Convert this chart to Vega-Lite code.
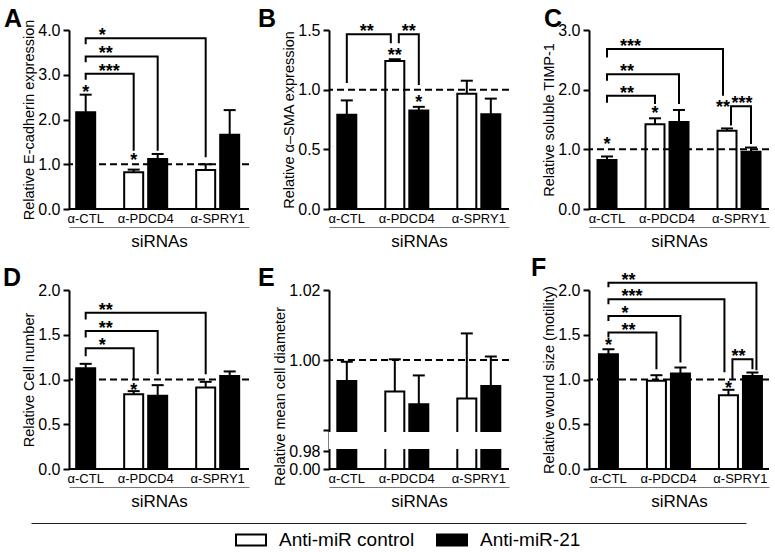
{
"$schema": "https://vega.github.io/schema/vega-lite/v6.json",
"background": "white",
"padding": {"left": 3, "top": 7, "right": 2, "bottom": 0},
"columns": 3,
"spacing": {"row": 81, "column": 80},
"bounds": "flush",
"datasets": {
"bars": [
{"p":"A","x":"CTL","t":"Anti-miR-21","v":2.16,"e":2.555},
{"p":"A","x":"PDCD4 c","t":"Anti-miR control","v":0.82,"e":0.88},
{"p":"A","x":"PDCD4 m","t":"Anti-miR-21","v":1.117,"e":1.23},
{"p":"A","x":"SPRY1 c","t":"Anti-miR control","v":0.87,"e":1.0},
{"p":"A","x":"SPRY1 m","t":"Anti-miR-21","v":1.66,"e":2.21},
{"p":"B","x":"CTL","t":"Anti-miR-21","v":0.79,"e":0.91},
{"p":"B","x":"PDCD4 c","t":"Anti-miR control","v":1.24,"e":1.255},
{"p":"B","x":"PDCD4 m","t":"Anti-miR-21","v":0.825,"e":0.856},
{"p":"B","x":"SPRY1 c","t":"Anti-miR control","v":0.965,"e":1.075},
{"p":"B","x":"SPRY1 m","t":"Anti-miR-21","v":0.795,"e":0.925},
{"p":"C","x":"CTL","t":"Anti-miR-21","v":0.82,"e":0.88},
{"p":"C","x":"PDCD4 c","t":"Anti-miR control","v":1.42,"e":1.52},
{"p":"C","x":"PDCD4 m","t":"Anti-miR-21","v":1.46,"e":1.66},
{"p":"C","x":"SPRY1 c","t":"Anti-miR control","v":1.31,"e":1.35},
{"p":"C","x":"SPRY1 m","t":"Anti-miR-21","v":0.96,"e":1.03},
{"p":"D","x":"CTL","t":"Anti-miR-21","v":1.126,"e":1.175},
{"p":"D","x":"PDCD4 c","t":"Anti-miR control","v":0.836,"e":0.87},
{"p":"D","x":"PDCD4 m","t":"Anti-miR-21","v":0.818,"e":0.937},
{"p":"D","x":"SPRY1 c","t":"Anti-miR control","v":0.91,"e":0.974},
{"p":"D","x":"SPRY1 m","t":"Anti-miR-21","v":1.04,"e":1.09},
{"p":"E","x":"CTL","t":"Anti-miR-21","v":0.994,"e":0.9995},
{"p":"E","x":"PDCD4 c","t":"Anti-miR control","v":0.991,"e":1.0002},
{"p":"E","x":"PDCD4 m","t":"Anti-miR-21","v":0.9874,"e":0.9956},
{"p":"E","x":"SPRY1 c","t":"Anti-miR control","v":0.989,"e":1.0076},
{"p":"E","x":"SPRY1 m","t":"Anti-miR-21","v":0.9926,"e":1.001},
{"p":"F","x":"CTL","t":"Anti-miR-21","v":1.283,"e":1.338},
{"p":"F","x":"PDCD4 c","t":"Anti-miR control","v":0.985,"e":1.048},
{"p":"F","x":"PDCD4 m","t":"Anti-miR-21","v":1.067,"e":1.134},
{"p":"F","x":"SPRY1 c","t":"Anti-miR control","v":0.825,"e":0.885},
{"p":"F","x":"SPRY1 m","t":"Anti-miR-21","v":1.04,"e":1.078}
],
"bs": [
{"p":"A","x":"CTL","o":"c","y":2.70,"s":"*"},
{"p":"A","x":"PDCD4 c","o":"c","y":1.19,"s":"*"},
{"p":"B","x":"PDCD4 c","o":"c","y":1.32,"s":"**"},
{"p":"B","x":"PDCD4 m","o":"c","y":0.93,"s":"*"},
{"p":"C","x":"CTL","o":"c","y":1.16,"s":"*"},
{"p":"C","x":"PDCD4 c","o":"c","y":1.67,"s":"*"},
{"p":"C","x":"SPRY1 c","o":"l","y":1.78,"s":"**"},
{"p":"D","x":"PDCD4 c","o":"c","y":0.93,"s":"*"},
{"p":"F","x":"CTL","o":"c","y":1.43,"s":"*"},
{"p":"F","x":"SPRY1 c","o":"c","y":0.948,"s":"*"}
],
"br": [
{"p":"A","b":"A1","xs":["CTL","CTL","SPRY1 c","SPRY1 c"],"ss":["c","c","c","c"],"ys":[3.68,3.815,3.815,1.155],"h":3.815,"t":"*","sx":"CTL"},
{"p":"A","b":"A2","xs":["CTL","CTL","PDCD4 m","PDCD4 m"],"ss":["c","c","c","c"],"ys":[3.28,3.41,3.41,1.30],"h":3.41,"t":"**","sx":"CTL"},
{"p":"A","b":"A3","xs":["CTL","CTL","PDCD4 c","PDCD4 c"],"ss":["c","c","c","c"],"ys":[2.89,3.02,3.02,1.30],"h":3.02,"t":"***","sx":"CTL"},
{"p":"B","b":"B1","xs":["CTL","CTL","PDCD4 c","PDCD4 c"],"ss":["c","c","l","l"],"ys":[1.056,1.464,1.464,1.39],"h":1.464,"t":"**","sx":"CTL"},
{"p":"B","b":"B2","xs":["PDCD4 c","PDCD4 c","PDCD4 m","PDCD4 m"],"ss":["r","r","c","c"],"ys":[1.39,1.464,1.464,1.04],"h":1.464,"t":"**","sx":"PDCD4"},
{"p":"C","b":"C1","xs":["CTL","CTL","SPRY1 c","SPRY1 c"],"ss":["c","c","l","l"],"ys":[2.54,2.68,2.68,1.90],"h":2.68,"t":"***","sx":"CTL"},
{"p":"C","b":"C2","xs":["CTL","CTL","PDCD4 m","PDCD4 m"],"ss":["c","c","c","c"],"ys":[2.15,2.26,2.26,1.76],"h":2.26,"t":"**","sx":"CTL"},
{"p":"C","b":"C3","xs":["CTL","CTL","PDCD4 c","PDCD4 c"],"ss":["c","c","c","c"],"ys":[1.78,1.90,1.90,1.76],"h":1.90,"t":"**","sx":"CTL"},
{"p":"C","b":"C4","xs":["SPRY1 c","SPRY1 c","SPRY1 m","SPRY1 m"],"ss":["r","r","c","c"],"ys":[1.40,1.72,1.72,1.09],"h":1.72,"t":"***","sx":"SPRY1"},
{"p":"D","b":"D1","xs":["CTL","CTL","SPRY1 c","SPRY1 c"],"ss":["c","c","c","c"],"ys":[1.67,1.747,1.747,1.06],"h":1.747,"t":"**","sx":"CTL"},
{"p":"D","b":"D2","xs":["CTL","CTL","PDCD4 m","PDCD4 m"],"ss":["c","c","c","c"],"ys":[1.47,1.543,1.543,1.06],"h":1.543,"t":"**","sx":"CTL"},
{"p":"D","b":"D3","xs":["CTL","CTL","PDCD4 c","PDCD4 c"],"ss":["c","c","c","c"],"ys":[1.26,1.35,1.35,1.00],"h":1.35,"t":"*","sx":"CTL"},
{"p":"F","b":"F1","xs":["CTL","CTL","SPRY1 m","SPRY1 m"],"ss":["c","c","r","r"],"ys":[2.03,2.08,2.08,1.104],"h":2.08,"t":"**","sx":"CTL"},
{"p":"F","b":"F2","xs":["CTL","CTL","SPRY1 c","SPRY1 c"],"ss":["c","c","l","l"],"ys":[1.84,1.896,1.896,1.08],"h":1.896,"t":"***","sx":"CTL"},
{"p":"F","b":"F3","xs":["CTL","CTL","PDCD4 m","PDCD4 m"],"ss":["c","c","c","c"],"ys":[1.654,1.71,1.71,1.19],"h":1.71,"t":"*","sx":"CTL"},
{"p":"F","b":"F4","xs":["CTL","CTL","PDCD4 c","PDCD4 c"],"ss":["c","c","c","c"],"ys":[1.468,1.524,1.524,1.115],"h":1.524,"t":"**","sx":"CTL"},
{"p":"F","b":"F5","xs":["SPRY1 c","SPRY1 c","SPRY1 m","SPRY1 m"],"ss":["r","r","c","c"],"ys":[1.0,1.227,1.227,1.115],"h":1.227,"t":"**","sx":"SPRY1"}
]
},
"concat": [
{
"width": 180, "height": 179,
"title": {"text": "A", "anchor": "start", "frame": "group", "dx": -65, "offset": -13},
"layer": [
{"data": {"values": [{}]}, "mark": {"type": "rule", "strokeWidth": 2, "color": "black"}, "encoding": {"y": {"datum": 0, "type": "quantitative"}}},
{"data": {"name": "bars"}, "transform": [{"filter": "datum.p == 'A'"}], "mark": {"type": "bar", "width": 19, "stroke": "black", "strokeWidth": 2},
 "encoding": {
  "x": {"field": "x", "type": "nominal", "title": "siRNAs", "scale": {"domain": ["CTL","g1","g2","g3","PDCD4 c","PDCD4","PDCD4 m","g4","g5","g6","SPRY1 c","SPRY1","SPRY1 m"], "paddingInner": 0, "paddingOuter": 1.412, "align": 0.445}, "axis": {"labelExpr": "indexof(['CTL','PDCD4','SPRY1'], datum.value) >= 0 ? 'α-' + datum.value : ''"}},
  "y": {"field": "v", "type": "quantitative", "scale": {"domain": [0, 4], "nice": false}, "axis": {"title": "Relative E-cadherin expression", "values": [0, 1, 2, 3, 4], "format": ".1f"}},
  "fill": {"field": "t", "type": "nominal", "scale": {"domain": ["Anti-miR control", "Anti-miR-21"], "range": ["white", "black"]}, "legend": {"orient": "none", "legendX": 166, "legendY": 494, "direction": "horizontal", "title": null}}
 }},
{"data": {"name": "bars"}, "transform": [{"filter": "datum.p == 'A'"}], "mark": {"type": "rule", "strokeWidth": 2, "color": "black"}, "encoding": {"x": {"field": "x", "type": "nominal", "title": "siRNAs"}, "y": {"field": "v", "type": "quantitative"}, "y2": {"field": "e"}}},
{"data": {"name": "bars"}, "transform": [{"filter": "datum.p == 'A'"}], "mark": {"type": "tick", "size": 12, "thickness": 2, "color": "black", "opacity": 1}, "encoding": {"x": {"field": "x", "type": "nominal", "title": "siRNAs"}, "y": {"field": "e", "type": "quantitative"}}},
{"data": {"values": [{}]}, "mark": {"type": "rule", "strokeWidth": 2, "strokeDash": [7, 4], "color": "black"}, "encoding": {"y": {"datum": 1, "type": "quantitative"}}},
{"data": {"name": "br"}, "transform": [{"filter": "datum.p == 'A'"}, {"flatten": ["xs", "ss", "ys"]}, {"window": [{"op": "row_number", "as": "o"}], "groupby": ["b"]}], "mark": {"type": "line", "strokeWidth": 2, "color": "black", "strokeJoin": "miter"}, "encoding": {"x": {"field": "xs", "type": "nominal", "title": "siRNAs"}, "xOffset": {"field": "ss", "type": "nominal", "scale": {"domain": ["l", "c", "r"]}}, "y": {"field": "ys", "type": "quantitative"}, "detail": {"field": "b"}, "order": {"field": "o"}}},
{"data": {"name": "br"}, "transform": [{"filter": "datum.p == 'A' && datum.sx == 'CTL'"}], "mark": {"type": "text", "align": "left", "dx": 13, "dy": 3, "fontSize": 18, "fontWeight": "bold", "baseline": "alphabetic"}, "encoding": {"x": {"field": "sx", "type": "nominal", "title": "siRNAs"}, "y": {"field": "h", "type": "quantitative"}, "text": {"field": "t"}}},
{"data": {"name": "bs"}, "transform": [{"filter": "datum.p == 'A'"}], "mark": {"type": "text", "align": "center", "dy": 10, "fontSize": 18, "fontWeight": "bold", "baseline": "alphabetic"}, "encoding": {"x": {"field": "x", "type": "nominal", "title": "siRNAs"}, "xOffset": {"field": "o", "type": "nominal", "scale": {"domain": ["l", "c", "r"]}}, "y": {"field": "y", "type": "quantitative"}, "text": {"field": "s"}}}
]
},
{
"width": 180, "height": 179,
"title": {"text": "B", "anchor": "start", "frame": "group", "dx": -71, "offset": -10},
"layer": [
{"data": {"values": [{}]}, "mark": {"type": "rule", "strokeWidth": 2, "color": "black"}, "encoding": {"y": {"datum": 0, "type": "quantitative"}}},
{"data": {"name": "bars"}, "transform": [{"filter": "datum.p == 'B'"}], "mark": {"type": "bar", "width": 19, "stroke": "black", "strokeWidth": 2},
 "encoding": {
  "x": {"field": "x", "type": "nominal", "title": "siRNAs", "scale": {"domain": ["CTL","g1","g2","g3","PDCD4 c","PDCD4","PDCD4 m","g4","g5","g6","SPRY1 c","SPRY1","SPRY1 m"], "paddingInner": 0, "paddingOuter": 1.412, "align": 0.492}, "axis": {"labelExpr": "indexof(['CTL','PDCD4','SPRY1'], datum.value) >= 0 ? 'α-' + datum.value : ''"}},
  "y": {"field": "v", "type": "quantitative", "scale": {"domain": [0, 1.5], "nice": false}, "axis": {"title": "Relative α–SMA expression", "values": [0, 0.5, 1, 1.5], "format": ".1f"}},
  "fill": {"field": "t", "type": "nominal", "scale": {"domain": ["Anti-miR control", "Anti-miR-21"], "range": ["white", "black"]}, "legend": {"orient": "none", "legendX": 166, "legendY": 494, "direction": "horizontal", "title": null}}
 }},
{"data": {"name": "bars"}, "transform": [{"filter": "datum.p == 'B'"}], "mark": {"type": "rule", "strokeWidth": 2, "color": "black"}, "encoding": {"x": {"field": "x", "type": "nominal", "title": "siRNAs"}, "y": {"field": "v", "type": "quantitative"}, "y2": {"field": "e"}}},
{"data": {"name": "bars"}, "transform": [{"filter": "datum.p == 'B'"}], "mark": {"type": "tick", "size": 12, "thickness": 2, "color": "black", "opacity": 1}, "encoding": {"x": {"field": "x", "type": "nominal", "title": "siRNAs"}, "y": {"field": "e", "type": "quantitative"}}},
{"data": {"values": [{}]}, "mark": {"type": "rule", "strokeWidth": 2, "strokeDash": [7, 4], "color": "black"}, "encoding": {"y": {"datum": 1, "type": "quantitative"}}},
{"data": {"name": "br"}, "transform": [{"filter": "datum.p == 'B'"}, {"flatten": ["xs", "ss", "ys"]}, {"window": [{"op": "row_number", "as": "o"}], "groupby": ["b"]}], "mark": {"type": "line", "strokeWidth": 2, "color": "black", "strokeJoin": "miter"}, "encoding": {"x": {"field": "xs", "type": "nominal", "title": "siRNAs"}, "xOffset": {"field": "ss", "type": "nominal", "scale": {"domain": ["l", "c", "r"]}}, "y": {"field": "ys", "type": "quantitative"}, "detail": {"field": "b"}, "order": {"field": "o"}}},
{"data": {"name": "br"}, "transform": [{"filter": "datum.p == 'B' && datum.sx == 'CTL'"}], "mark": {"type": "text", "align": "left", "dx": 13, "dy": 3, "fontSize": 18, "fontWeight": "bold", "baseline": "alphabetic"}, "encoding": {"x": {"field": "sx", "type": "nominal", "title": "siRNAs"}, "y": {"field": "h", "type": "quantitative"}, "text": {"field": "t"}}},
{"data": {"name": "br"}, "transform": [{"filter": "datum.p == 'B' && datum.sx != 'CTL'"}], "mark": {"type": "text", "align": "center", "dx": 2, "dy": 3, "fontSize": 18, "fontWeight": "bold", "baseline": "alphabetic"}, "encoding": {"x": {"field": "sx", "type": "nominal", "title": "siRNAs"}, "y": {"field": "h", "type": "quantitative"}, "text": {"field": "t"}}},
{"data": {"name": "bs"}, "transform": [{"filter": "datum.p == 'B'"}], "mark": {"type": "text", "align": "center", "dy": 10, "fontSize": 18, "fontWeight": "bold", "baseline": "alphabetic"}, "encoding": {"x": {"field": "x", "type": "nominal", "title": "siRNAs"}, "xOffset": {"field": "o", "type": "nominal", "scale": {"domain": ["l", "c", "r"]}}, "y": {"field": "y", "type": "quantitative"}, "text": {"field": "s"}}}
]
},
{
"width": 180, "height": 179,
"title": {"text": "C", "anchor": "start", "frame": "group", "dx": -45, "offset": -10},
"layer": [
{"data": {"values": [{}]}, "mark": {"type": "rule", "strokeWidth": 2, "color": "black"}, "encoding": {"y": {"datum": 0, "type": "quantitative"}}},
{"data": {"name": "bars"}, "transform": [{"filter": "datum.p == 'C'"}], "mark": {"type": "bar", "width": 19, "stroke": "black", "strokeWidth": 2},
 "encoding": {
  "x": {"field": "x", "type": "nominal", "title": "siRNAs", "scale": {"domain": ["CTL","g1","g2","g3","PDCD4 c","PDCD4","PDCD4 m","g4","g5","g6","SPRY1 c","SPRY1","SPRY1 m"], "paddingInner": 0, "paddingOuter": 1.412, "align": 0.5}, "axis": {"labelExpr": "indexof(['CTL','PDCD4','SPRY1'], datum.value) >= 0 ? 'α-' + datum.value : ''"}},
  "y": {"field": "v", "type": "quantitative", "scale": {"domain": [0, 3], "nice": false}, "axis": {"title": "Relative soluble TIMP-1", "values": [0, 1, 2, 3], "format": ".1f"}},
  "fill": {"field": "t", "type": "nominal", "scale": {"domain": ["Anti-miR control", "Anti-miR-21"], "range": ["white", "black"]}, "legend": {"orient": "none", "legendX": 166, "legendY": 494, "direction": "horizontal", "title": null}}
 }},
{"data": {"name": "bars"}, "transform": [{"filter": "datum.p == 'C'"}], "mark": {"type": "rule", "strokeWidth": 2, "color": "black"}, "encoding": {"x": {"field": "x", "type": "nominal", "title": "siRNAs"}, "y": {"field": "v", "type": "quantitative"}, "y2": {"field": "e"}}},
{"data": {"name": "bars"}, "transform": [{"filter": "datum.p == 'C'"}], "mark": {"type": "tick", "size": 12, "thickness": 2, "color": "black", "opacity": 1}, "encoding": {"x": {"field": "x", "type": "nominal", "title": "siRNAs"}, "y": {"field": "e", "type": "quantitative"}}},
{"data": {"values": [{}]}, "mark": {"type": "rule", "strokeWidth": 2, "strokeDash": [7, 4], "color": "black"}, "encoding": {"y": {"datum": 1, "type": "quantitative"}}},
{"data": {"name": "br"}, "transform": [{"filter": "datum.p == 'C'"}, {"flatten": ["xs", "ss", "ys"]}, {"window": [{"op": "row_number", "as": "o"}], "groupby": ["b"]}], "mark": {"type": "line", "strokeWidth": 2, "color": "black", "strokeJoin": "miter"}, "encoding": {"x": {"field": "xs", "type": "nominal", "title": "siRNAs"}, "xOffset": {"field": "ss", "type": "nominal", "scale": {"domain": ["l", "c", "r"]}}, "y": {"field": "ys", "type": "quantitative"}, "detail": {"field": "b"}, "order": {"field": "o"}}},
{"data": {"name": "br"}, "transform": [{"filter": "datum.p == 'C' && datum.sx == 'CTL'"}], "mark": {"type": "text", "align": "left", "dx": 13, "dy": 3, "fontSize": 18, "fontWeight": "bold", "baseline": "alphabetic"}, "encoding": {"x": {"field": "sx", "type": "nominal", "title": "siRNAs"}, "y": {"field": "h", "type": "quantitative"}, "text": {"field": "t"}}},
{"data": {"name": "br"}, "transform": [{"filter": "datum.p == 'C' && datum.sx != 'CTL'"}], "mark": {"type": "text", "align": "center", "dx": 3, "dy": 3, "fontSize": 18, "fontWeight": "bold", "baseline": "alphabetic"}, "encoding": {"x": {"field": "sx", "type": "nominal", "title": "siRNAs"}, "y": {"field": "h", "type": "quantitative"}, "text": {"field": "t"}}},
{"data": {"name": "bs"}, "transform": [{"filter": "datum.p == 'C'"}], "mark": {"type": "text", "align": "center", "dy": 10, "fontSize": 18, "fontWeight": "bold", "baseline": "alphabetic"}, "encoding": {"x": {"field": "x", "type": "nominal", "title": "siRNAs"}, "xOffset": {"field": "o", "type": "nominal", "scale": {"domain": ["l", "c", "r"]}}, "y": {"field": "y", "type": "quantitative"}, "text": {"field": "s"}}}
]
},
{
"width": 180, "height": 179,
"title": {"text": "D", "anchor": "start", "frame": "group", "dx": -66, "offset": -9},
"layer": [
{"data": {"values": [{}]}, "mark": {"type": "rule", "strokeWidth": 2, "color": "black"}, "encoding": {"y": {"datum": 0, "type": "quantitative"}}},
{"data": {"name": "bars"}, "transform": [{"filter": "datum.p == 'D'"}], "mark": {"type": "bar", "width": 19, "stroke": "black", "strokeWidth": 2},
 "encoding": {
  "x": {"field": "x", "type": "nominal", "title": "siRNAs", "scale": {"domain": ["CTL","g1","g2","g3","PDCD4 c","PDCD4","PDCD4 m","g4","g5","g6","SPRY1 c","SPRY1","SPRY1 m"], "paddingInner": 0, "paddingOuter": 1.412, "align": 0.445}, "axis": {"labelExpr": "indexof(['CTL','PDCD4','SPRY1'], datum.value) >= 0 ? 'α-' + datum.value : ''"}},
  "y": {"field": "v", "type": "quantitative", "scale": {"domain": [0, 2], "nice": false}, "axis": {"title": "Relative Cell number", "values": [0, 0.5, 1, 1.5, 2], "format": ".1f"}},
  "fill": {"field": "t", "type": "nominal", "scale": {"domain": ["Anti-miR control", "Anti-miR-21"], "range": ["white", "black"]}, "legend": {"orient": "none", "legendX": 166, "legendY": 494, "direction": "horizontal", "title": null}}
 }},
{"data": {"name": "bars"}, "transform": [{"filter": "datum.p == 'D'"}], "mark": {"type": "rule", "strokeWidth": 2, "color": "black"}, "encoding": {"x": {"field": "x", "type": "nominal", "title": "siRNAs"}, "y": {"field": "v", "type": "quantitative"}, "y2": {"field": "e"}}},
{"data": {"name": "bars"}, "transform": [{"filter": "datum.p == 'D'"}], "mark": {"type": "tick", "size": 12, "thickness": 2, "color": "black", "opacity": 1}, "encoding": {"x": {"field": "x", "type": "nominal", "title": "siRNAs"}, "y": {"field": "e", "type": "quantitative"}}},
{"data": {"values": [{}]}, "mark": {"type": "rule", "strokeWidth": 2, "strokeDash": [7, 4], "color": "black"}, "encoding": {"y": {"datum": 1, "type": "quantitative"}}},
{"data": {"name": "br"}, "transform": [{"filter": "datum.p == 'D'"}, {"flatten": ["xs", "ss", "ys"]}, {"window": [{"op": "row_number", "as": "o"}], "groupby": ["b"]}], "mark": {"type": "line", "strokeWidth": 2, "color": "black", "strokeJoin": "miter"}, "encoding": {"x": {"field": "xs", "type": "nominal", "title": "siRNAs"}, "xOffset": {"field": "ss", "type": "nominal", "scale": {"domain": ["l", "c", "r"]}}, "y": {"field": "ys", "type": "quantitative"}, "detail": {"field": "b"}, "order": {"field": "o"}}},
{"data": {"name": "br"}, "transform": [{"filter": "datum.p == 'D' && datum.sx == 'CTL'"}], "mark": {"type": "text", "align": "left", "dx": 13, "dy": 3, "fontSize": 18, "fontWeight": "bold", "baseline": "alphabetic"}, "encoding": {"x": {"field": "sx", "type": "nominal", "title": "siRNAs"}, "y": {"field": "h", "type": "quantitative"}, "text": {"field": "t"}}},
{"data": {"name": "bs"}, "transform": [{"filter": "datum.p == 'D'"}], "mark": {"type": "text", "align": "center", "dy": 10, "fontSize": 18, "fontWeight": "bold", "baseline": "alphabetic"}, "encoding": {"x": {"field": "x", "type": "nominal", "title": "siRNAs"}, "xOffset": {"field": "o", "type": "nominal", "scale": {"domain": ["l", "c", "r"]}}, "y": {"field": "y", "type": "quantitative"}, "text": {"field": "s"}}}
]
},
{
"width": 180, "height": 179,
"title": {"text": "E", "anchor": "start", "frame": "group", "dx": -71, "offset": -9},
"layer": [
{"data": {"values": [{}]}, "mark": {"type": "rule", "strokeWidth": 2, "color": "black"}, "encoding": {"y": {"datum": 0, "type": "quantitative"}}},
{"data": {"name": "bars"}, "transform": [{"filter": "datum.p == 'E'"}], "mark": {"type": "bar", "width": 19, "stroke": "black", "strokeWidth": 2},
 "encoding": {
  "x": {"field": "x", "type": "nominal", "title": "siRNAs", "scale": {"domain": ["CTL","g1","g2","g3","PDCD4 c","PDCD4","PDCD4 m","g4","g5","g6","SPRY1 c","SPRY1","SPRY1 m"], "paddingInner": 0, "paddingOuter": 1.412, "align": 0.492}, "axis": {"labelExpr": "indexof(['CTL','PDCD4','SPRY1'], datum.value) >= 0 ? 'α-' + datum.value : ''"}},
  "y": {"field": "v", "type": "quantitative", "scale": {"domain": [0, 0.98, 0.98001, 1.02], "range": [179, 161, 140, 0], "nice": false, "zero": false}, "axis": {"title": "Relative mean cell diameter", "values": [0, 0.98, 0.98001, 1, 1.02], "labelExpr": "datum.value == 0.98001 ? '' : format(datum.value, '.2f')", "labelOverlap": false, "titleY": 106}},
  "fill": {"field": "t", "type": "nominal", "scale": {"domain": ["Anti-miR control", "Anti-miR-21"], "range": ["white", "black"]}, "legend": {"orient": "none", "legendX": 166, "legendY": 494, "direction": "horizontal", "title": null}}
 }},
{"data": {"values": [{}]}, "mark": {"type": "rect", "color": "white", "xOffset": -4}, "encoding": {"y": {"datum": 0.980001, "type": "quantitative"}, "y2": {"datum": 0.980009}}},
{"data": {"name": "bars"}, "transform": [{"filter": "datum.p == 'E'"}], "mark": {"type": "rule", "strokeWidth": 2, "color": "black"}, "encoding": {"x": {"field": "x", "type": "nominal", "title": "siRNAs"}, "y": {"field": "v", "type": "quantitative"}, "y2": {"field": "e"}}},
{"data": {"name": "bars"}, "transform": [{"filter": "datum.p == 'E'"}], "mark": {"type": "tick", "size": 12, "thickness": 2, "color": "black", "opacity": 1}, "encoding": {"x": {"field": "x", "type": "nominal", "title": "siRNAs"}, "y": {"field": "e", "type": "quantitative"}}},
{"data": {"values": [{}]}, "mark": {"type": "rule", "strokeWidth": 2, "strokeDash": [7, 4], "color": "black"}, "encoding": {"y": {"datum": 1, "type": "quantitative"}}}
]
},
{
"width": 180, "height": 179,
"title": {"text": "F", "anchor": "start", "frame": "group", "dx": -58, "offset": -9},
"layer": [
{"data": {"values": [{}]}, "mark": {"type": "rule", "strokeWidth": 2, "color": "black"}, "encoding": {"y": {"datum": 0, "type": "quantitative"}}},
{"data": {"name": "bars"}, "transform": [{"filter": "datum.p == 'F'"}], "mark": {"type": "bar", "width": 19, "stroke": "black", "strokeWidth": 2},
 "encoding": {
  "x": {"field": "x", "type": "nominal", "title": "siRNAs", "scale": {"domain": ["CTL","g1","g2","g3","PDCD4 c","PDCD4","PDCD4 m","g4","g5","g6","SPRY1 c","SPRY1","SPRY1 m"], "paddingInner": 0, "paddingOuter": 1.412, "align": 0.56}, "axis": {"labelExpr": "indexof(['CTL','PDCD4','SPRY1'], datum.value) >= 0 ? 'α-' + datum.value : ''"}},
  "y": {"field": "v", "type": "quantitative", "scale": {"domain": [0, 2], "nice": false}, "axis": {"title": "Relative wound size (motility)", "values": [0, 0.5, 1, 1.5, 2], "format": ".1f"}},
  "fill": {"field": "t", "type": "nominal", "scale": {"domain": ["Anti-miR control", "Anti-miR-21"], "range": ["white", "black"]}, "legend": {"orient": "none", "legendX": 166, "legendY": 494, "direction": "horizontal", "title": null}}
 }},
{"data": {"name": "bars"}, "transform": [{"filter": "datum.p == 'F'"}], "mark": {"type": "rule", "strokeWidth": 2, "color": "black"}, "encoding": {"x": {"field": "x", "type": "nominal", "title": "siRNAs"}, "y": {"field": "v", "type": "quantitative"}, "y2": {"field": "e"}}},
{"data": {"name": "bars"}, "transform": [{"filter": "datum.p == 'F'"}], "mark": {"type": "tick", "size": 12, "thickness": 2, "color": "black", "opacity": 1}, "encoding": {"x": {"field": "x", "type": "nominal", "title": "siRNAs"}, "y": {"field": "e", "type": "quantitative"}}},
{"data": {"values": [{}]}, "mark": {"type": "rule", "strokeWidth": 2, "strokeDash": [7, 4], "color": "black"}, "encoding": {"y": {"datum": 1, "type": "quantitative"}}},
{"data": {"name": "br"}, "transform": [{"filter": "datum.p == 'F'"}, {"flatten": ["xs", "ss", "ys"]}, {"window": [{"op": "row_number", "as": "o"}], "groupby": ["b"]}], "mark": {"type": "line", "strokeWidth": 2, "color": "black", "strokeJoin": "miter"}, "encoding": {"x": {"field": "xs", "type": "nominal", "title": "siRNAs"}, "xOffset": {"field": "ss", "type": "nominal", "scale": {"domain": ["l", "c", "r"]}}, "y": {"field": "ys", "type": "quantitative"}, "detail": {"field": "b"}, "order": {"field": "o"}}},
{"data": {"name": "br"}, "transform": [{"filter": "datum.p == 'F' && datum.sx == 'CTL'"}], "mark": {"type": "text", "align": "left", "dx": 13, "dy": 3, "fontSize": 18, "fontWeight": "bold", "baseline": "alphabetic"}, "encoding": {"x": {"field": "sx", "type": "nominal", "title": "siRNAs"}, "y": {"field": "h", "type": "quantitative"}, "text": {"field": "t"}}},
{"data": {"name": "br"}, "transform": [{"filter": "datum.p == 'F' && datum.sx != 'CTL'"}], "mark": {"type": "text", "align": "center", "dx": -2, "dy": 3, "fontSize": 18, "fontWeight": "bold", "baseline": "alphabetic"}, "encoding": {"x": {"field": "sx", "type": "nominal", "title": "siRNAs"}, "y": {"field": "h", "type": "quantitative"}, "text": {"field": "t"}}},
{"data": {"name": "bs"}, "transform": [{"filter": "datum.p == 'F'"}], "mark": {"type": "text", "align": "center", "dy": 10, "fontSize": 18, "fontWeight": "bold", "baseline": "alphabetic"}, "encoding": {"x": {"field": "x", "type": "nominal", "title": "siRNAs"}, "xOffset": {"field": "o", "type": "nominal", "scale": {"domain": ["l", "c", "r"]}}, "y": {"field": "y", "type": "quantitative"}, "text": {"field": "s"}}}
]
},
{
"width": 180, "height": 1,
"data": {"values": [{}]},
"mark": {"type": "point", "opacity": 0},
"encoding": {"x": {"datum": 0.5, "type": "quantitative", "scale": {"domain": [0, 1], "range": [-38, 677]}, "axis": {"orient": "top", "offset": 27, "domain": true, "domainColor": "#222222", "domainWidth": 1, "ticks": false, "labels": false, "title": null}}}
}
],
"config": {
"font": "Liberation Sans",
"view": {"stroke": null},
"axis": {"grid": false, "labelColor": "black", "titleColor": "black", "labelFont": "Liberation Sans", "titleFont": "Liberation Sans"},
"axisY": {"domainColor": "black", "domainWidth": 2, "tickColor": "black", "tickWidth": 2, "tickSize": 6, "labelFontSize": 16, "labelPadding": 3, "titleFontSize": 14.5, "titleFontWeight": "normal", "titlePadding": 1},
"axisX": {"domain": true, "domainColor": "#777777", "domainWidth": 1, "offset": 18, "ticks": false, "labelPadding": -15, "labelFontSize": 13, "labelAngle": 0, "titleFontSize": 17, "titleFontWeight": "normal", "titlePadding": 6},
"title": {"fontSize": 25, "fontWeight": "bold", "color": "black", "font": "Liberation Sans"},
"legend": {"symbolType": "M-1,-0.37H1V0.37H-1Z", "symbolSize": 900, "symbolStrokeColor": "black", "symbolStrokeWidth": 2, "labelFontSize": 19, "labelColor": "black", "labelOffset": 12, "columnPadding": 18, "padding": 0, "labelFont": "Liberation Sans"}
}
}
